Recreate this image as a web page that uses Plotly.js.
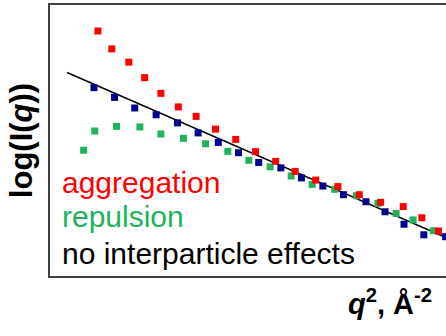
<!DOCTYPE html>
<html>
<head>
<meta charset="utf-8">
<script src="https://cdn.plot.ly/plotly-3.0.1.min.js"></script>
<style>
  html, body { margin: 0; padding: 0; background: #ffffff; overflow: hidden; }
  #chart { width: 446px; height: 336px; }
</style>
</head>
<body>
<div id="chart"></div>
<script>
// Guinier-type plot: log I(q) against q^2 (arbitrary units)
const aggregationQ2 = [1.21, 1.56, 1.99, 2.39, 2.80, 3.24, 3.69, 4.18, 4.69, 5.19, 5.70, 6.19, 6.71, 7.27, 7.81, 8.35, 8.92, 9.39, 9.81];
const aggregationLogI = [9.04, 8.38, 7.89, 7.32, 6.74, 6.24, 5.89, 5.42, 5.04, 4.59, 4.23, 3.86, 3.54, 3.30, 3.00, 2.72, 2.56, 2.15, 1.66];

const repulsionQ2 = [0.85, 1.13, 1.68, 2.27, 2.80, 3.37, 3.93, 4.49, 5.02, 5.56, 6.09, 6.62, 7.19, 7.74, 8.28, 8.74, 9.17, 9.68];
const repulsionLogI = [4.64, 5.35, 5.52, 5.50, 5.24, 5.08, 4.88, 4.60, 4.27, 4.03, 3.69, 3.38, 3.20, 2.96, 2.68, 2.31, 2.07, 1.67];

const idealQ2 = [1.11, 1.63, 2.14, 2.68, 3.22, 3.74, 4.25, 4.76, 5.27, 5.83, 6.35, 6.89, 7.41, 7.98, 8.46, 8.94, 9.44, 9.99];
const idealLogI = [6.95, 6.59, 6.20, 5.95, 5.65, 5.28, 4.93, 4.55, 4.19, 3.99, 3.62, 3.32, 3.00, 2.74, 2.37, 1.91, 1.52, 1.45];

// straight Guinier fit
const fitQ2 = [0.43, 10.0];
const fitLogI = [7.51, 1.42];

const labels = ["aggregation", "repulsion", "no interparticle effects"];

const RED = "#ff0000";
const GREEN = "#21b25c";
const BLUE = "#00008f";

const markerStyle = (c) => ({ symbol: "square", size: 7, color: c, line: { width: 0 } });

const traces = [
  { x: fitQ2, y: fitLogI, mode: "lines", line: { color: "#000000", width: 1.5 }, hoverinfo: "skip" },
  { x: repulsionQ2, y: repulsionLogI, mode: "markers", marker: markerStyle(GREEN), name: labels[1] },
  { x: aggregationQ2, y: aggregationLogI, mode: "markers", marker: markerStyle(RED), name: labels[0] },
  { x: idealQ2, y: idealLogI, mode: "markers", marker: markerStyle(BLUE), name: labels[2] }
];

const FONT = "Liberation Sans, Arial, sans-serif";

const layout = {
  width: 446,
  height: 336,
  margin: { l: 50, r: 0, t: 5, b: 60 },
  paper_bgcolor: "#ffffff",
  plot_bgcolor: "#ffffff",
  showlegend: false,
  xaxis: {
    range: [0, 10],
    showgrid: false, zeroline: false, showticklabels: false, ticks: "",
    showline: true, mirror: true, linecolor: "#404040", linewidth: 2
  },
  yaxis: {
    range: [0, 10],
    showgrid: false, zeroline: false, showticklabels: false, ticks: "",
    showline: true, mirror: false, linecolor: "#404040", linewidth: 2,
    title: { text: "<b>log(I(<i>q</i>))</b>", font: { family: FONT, size: 31, color: "#000000" }, standoff: 6 }
  },
  annotations: [
    { xref: "x", yref: "y", x: 0.25, y: 3.45, xanchor: "left", yanchor: "middle", showarrow: false,
      text: labels[0], font: { family: FONT, size: 30, color: RED } },
    { xref: "x", yref: "y", x: 0.25, y: 2.18, xanchor: "left", yanchor: "middle", showarrow: false,
      text: labels[1], font: { family: FONT, size: 30, color: GREEN } },
    { xref: "x", yref: "y", x: 0.25, y: 0.82, xanchor: "left", yanchor: "middle", showarrow: false,
      text: labels[2], font: { family: FONT, size: 30, color: "#000000" } },
    { xref: "paper", yref: "paper", x: 0.97, y: -0.095, xanchor: "right", yanchor: "middle", showarrow: false,
      text: "<b><i>q</i><sup>2</sup>, Å<sup>-2</sup></b>", font: { family: FONT, size: 29, color: "#000000" } }
  ]
};

Plotly.newPlot("chart", traces, layout, { staticPlot: true, displayModeBar: false });
</script>
</body>
</html>
